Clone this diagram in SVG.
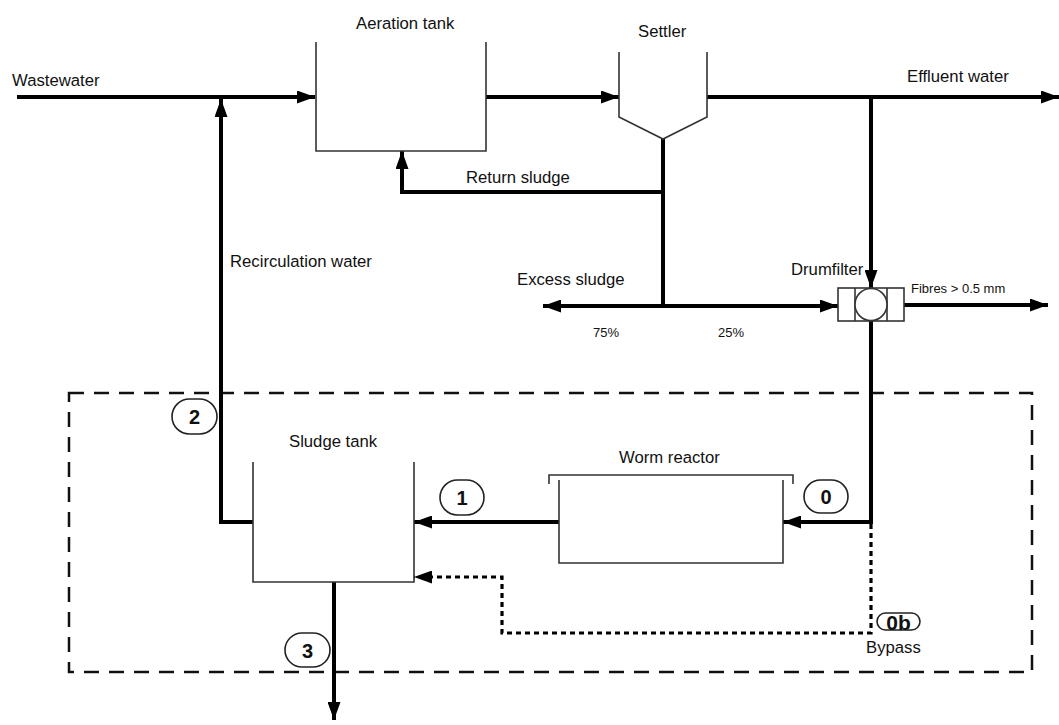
<svg xmlns="http://www.w3.org/2000/svg" width="1059" height="725" viewBox="0 0 1059 725">
<style>
text{font-family:"Liberation Sans",Arial,sans-serif;font-size:16.7px;fill:#111}
.sm{font-size:13px}
.num{font-weight:bold;font-size:20px;text-anchor:middle}
.tank{fill:none;stroke:#333;stroke-width:1.6}
.pill{fill:#fff;stroke:#222;stroke-width:1.6}
.flow{fill:none;stroke:#000;stroke-width:4}
.dot{fill:none;stroke:#000;stroke-width:3.2;stroke-dasharray:5 4}
.box{fill:none;stroke:#111;stroke-width:2.5;stroke-dasharray:15 10}
</style>
<defs>
<marker id="ah" viewBox="0 0 18 13" markerWidth="18" markerHeight="13" refX="18" refY="6.5" orient="auto" markerUnits="userSpaceOnUse">
<path d="M0,0 L18,6.5 L0,13 z" fill="#000"/>
</marker>
</defs>
<rect width="1059" height="725" fill="#fff"/>

<g id="system-boundary">
<rect class="box" x="69" y="393" width="963" height="279"/>
</g>

<g id="connectors">
<path class="flow" d="M17,97 H315" marker-end="url(#ah)"/>
<path class="flow" d="M486,97 H619" marker-end="url(#ah)"/>
<path class="flow" d="M707,97 H1059" marker-end="url(#ah)"/>
<path class="flow" d="M871,97 V288" marker-end="url(#ah)"/>
<path class="flow" d="M663,139 V306"/>
<path class="flow" d="M663,192 H402 V151" marker-end="url(#ah)"/>
<path class="flow" d="M663,306 H543" marker-end="url(#ah)"/>
<path class="flow" d="M663,306 H838" marker-end="url(#ah)"/>
<path class="flow" d="M904,305 H1048" marker-end="url(#ah)"/>
<path class="flow" d="M871,321 V522 H783" marker-end="url(#ah)"/>
<path class="flow" d="M559,522 H414" marker-end="url(#ah)"/>
<path class="flow" d="M253,522 H221 V99" marker-end="url(#ah)"/>
<path class="flow" d="M334,582 V720" marker-end="url(#ah)"/>
<path class="dot" d="M871,524 V633 H502 V577 H414" marker-end="url(#ah)"/>
</g>

<g id="aeration-tank">
<path class="tank" d="M316,42 V151 H486 V42"/>
<text x="356" y="29">Aeration tank</text>
</g>

<g id="settler">
<path class="tank" d="M619,52 V117 L663,139 L707,117 V52"/>
<text x="638" y="37">Settler</text>
</g>

<g id="drumfilter">
<rect x="838" y="288" width="66" height="33" fill="#fff" stroke="#333" stroke-width="1.6"/>
<line x1="855" y1="288" x2="855" y2="321" stroke="#333" stroke-width="1.6"/>
<line x1="887" y1="288" x2="887" y2="321" stroke="#333" stroke-width="1.6"/>
<circle cx="871" cy="304.5" r="16" fill="#fff" stroke="#333" stroke-width="1.6"/>
<text x="791" y="275">Drumfilter</text>
</g>

<g id="sludge-tank">
<path class="tank" d="M253,462 V582 H414 V462"/>
<text x="289" y="447">Sludge tank</text>
</g>

<g id="worm-reactor">
<path class="tank" d="M559,480 V563 H783 V480"/>
<path class="tank" d="M549,484 V475 H793 V484"/>
<text x="619" y="463">Worm reactor</text>
</g>

<g id="labels">
<text x="12" y="86">Wastewater</text>
<text x="907" y="82">Effluent water</text>
<text x="466" y="183">Return sludge</text>
<text x="230" y="267">Recirculation water</text>
<text x="517" y="285">Excess sludge</text>
<text class="sm" x="911" y="293">Fibres &gt; 0.5 mm</text>
<text class="sm" x="593" y="337">75%</text>
<text class="sm" x="718" y="337">25%</text>
<text x="866" y="653">Bypass</text>
</g>

<g id="point-2">
<rect class="pill" x="172" y="399" width="45" height="35" rx="17.5"/>
<text class="num" x="194.5" y="424">2</text>
</g>
<g id="point-1">
<rect class="pill" x="440" y="480" width="44" height="35" rx="17.5"/>
<text class="num" x="462" y="505">1</text>
</g>
<g id="point-0">
<rect class="pill" x="804" y="480" width="44" height="33" rx="16.5"/>
<text class="num" x="826" y="504">0</text>
</g>
<g id="point-3">
<rect class="pill" x="285" y="633" width="45" height="34" rx="17"/>
<text class="num" x="307.5" y="658">3</text>
</g>
<g id="point-0b">
<rect class="pill" x="877" y="613" width="43" height="17" rx="8.5"/>
<text class="num" x="898.5" y="629.5" style="font-size:21px">0b</text>
</g>
</svg>
